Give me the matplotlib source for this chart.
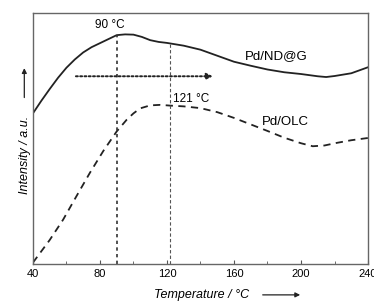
import matplotlib
matplotlib.use("Agg")
import matplotlib.pyplot as plt
from matplotlib.patches import FancyArrowPatch

plt.rcParams["font.family"] = ["Liberation Sans", "DejaVu Sans"]

# Pd/ND@G (solid) profile, arbitrary intensity units
temp_ndg = [40, 45, 50, 55, 60, 65, 70, 75, 80, 85, 90, 95, 100, 105, 110, 115,
            120, 130, 140, 150, 160, 170, 180, 190, 200, 210, 215, 220, 230, 240]
int_ndg = [0.600, 0.650, 0.697, 0.742, 0.782, 0.815, 0.843, 0.864, 0.880, 0.896,
           0.912, 0.915, 0.914, 0.905, 0.892, 0.885, 0.881, 0.870, 0.854, 0.830,
           0.806, 0.790, 0.775, 0.764, 0.757, 0.748, 0.745, 0.749, 0.760, 0.784]

# Pd/OLC (dashed) profile
temp_olc = [40, 50, 58, 66, 74, 82, 90, 96, 100, 104, 110, 116, 122, 130, 140,
            150, 160, 170, 180, 190, 200, 207, 214, 221, 230, 240]
int_olc = [0.005, 0.095, 0.176, 0.270, 0.363, 0.450, 0.528, 0.575, 0.600, 0.620,
           0.632, 0.634, 0.631, 0.628, 0.621, 0.605, 0.582, 0.556, 0.530, 0.503,
           0.481, 0.469, 0.472, 0.482, 0.493, 0.502]

peak_ndg = 90
peak_olc = 122
xticks = [40, 80, 120, 160, 200, 240]

fig = plt.figure(figsize=(3.74, 3.04), dpi=100)
ax = fig.add_axes([0.088, 0.132, 0.896, 0.825])

ax.plot(temp_ndg, int_ndg, color="#222222", lw=1.3)
ax.plot(temp_olc, int_olc, color="#222222", lw=1.3, dashes=(4, 3))

ax.plot([peak_ndg, peak_ndg], [0, 0.913], color="#333333", lw=1.2, dashes=(2, 2))
ax.plot([peak_olc, peak_olc], [0, 0.881], color="#555555", lw=0.8, dashes=(3, 2))

ax.annotate("", xy=(149, 0.748), xytext=(64, 0.748),
            arrowprops=dict(arrowstyle="-|>", color="#222222", lw=1.4,
                            linestyle=(0, (1, 1.2)), mutation_scale=9))

ax.text(86, 0.953, "90 °C", ha="center", va="center", fontsize=8.5)
ax.text(134.7, 0.657, "121 °C", ha="center", va="center", fontsize=8.5)
ax.text(185.5, 0.83, "Pd/ND@G", ha="center", va="center", fontsize=9.5)
ax.text(190.4, 0.564, "Pd/OLC", ha="center", va="center", fontsize=9.5)

ax.set_xlim(40, 240)
ax.set_ylim(0, 1)
ax.set_xticks(xticks)
ax.set_xticks(range(60, 240, 40), minor=True)
ax.tick_params(axis="x", direction="in", length=3, labelsize=8, pad=4, color="#555555")
ax.tick_params(axis="x", which="minor", direction="in", length=2, color="#555555")
ax.set_yticks([])
for s in ax.spines.values():
    s.set_color("#666666")
    s.set_linewidth(1.0)

fig.text(0.54, 0.03, "Temperature / °C", ha="center", va="center",
         fontsize=9, style="italic")
fig.text(0.067, 0.49, "Intensity / a.u.", ha="center", va="center",
         fontsize=9, style="italic", rotation=90)
fig.add_artist(FancyArrowPatch(
    (0.695, 0.03), (0.81, 0.03), transform=fig.transFigure,
    arrowstyle="-|>", mutation_scale=7, color="#222222", lw=0.9))
fig.add_artist(FancyArrowPatch(
    (0.065, 0.67), (0.065, 0.785), transform=fig.transFigure,
    arrowstyle="-|>", mutation_scale=7, color="#222222", lw=0.9))

fig.savefig("out.png", dpi=100)
